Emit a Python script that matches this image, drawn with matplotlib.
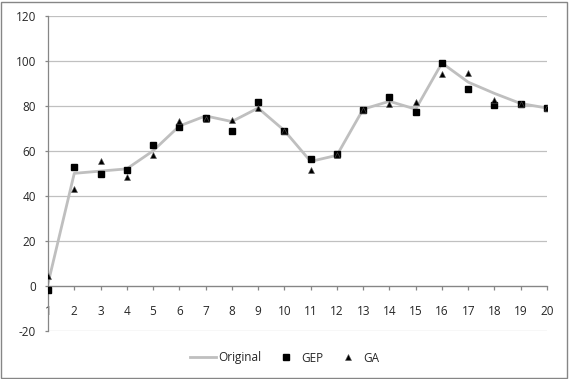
import matplotlib
matplotlib.use("Agg")
import matplotlib.pyplot as plt
from matplotlib.patches import Rectangle

# ---------------------------------------------------------------------
# Data
# ---------------------------------------------------------------------
categories = list(range(1, 21))
original = [1, 50, 51, 52, 60, 71, 75.5, 73, 79, 69,
            55.3, 58, 78.5, 82, 78.5, 99, 90.5, 85.5, 81, 79]
gep = [-1.8, 53, 49.6, 51.4, 62.4, 70.5, 74.7, 69, 81.5, 68.9,
       56.3, 58.7, 78, 84, 77.3, 99, 87.4, 80.3, 81, 79]
ga = [4.6, 43.1, 55.4, 48.6, 58.1, 73.3, 74.3, 73.8, 79, 68.9,
      51.6, 58.3, 78.3, 80.7, 81.9, 94.2, 94.5, 82.7, 80.7, 79]
y_ticks = [-20, 0, 20, 40, 60, 80, 100, 120]

plt.rcParams["font.family"] = ["Open Sans", "DejaVu Sans"]
plt.rcParams["font.size"] = 8.5
plt.rcParams["axes.unicode_minus"] = False

W, H = 569, 379
fig = plt.figure(figsize=(W / 100, H / 100), dpi=100)

# plot area in pixel coords of the reference
left, right, top, bottom = 48, 547, 15.7, 331
ax = fig.add_axes([left / W, 1 - bottom / H, (right - left) / W, (bottom - top) / H])

grid_c = "#c0c0c0"
axis_c = "#868686"

for y in y_ticks:
    ax.axhline(y, color=grid_c, linewidth=0.9, zorder=0)

ax.plot(categories, original, color="#bfbfbf", linewidth=2.0, label="Original", zorder=2)
ax.plot(categories, gep, linestyle="none", marker="s", markersize=4.6,
        color="black", label="GEP", zorder=3)
ax.plot(categories, ga, linestyle="none", marker="^", markersize=5.0,
        color="black", markeredgecolor="#555555", markeredgewidth=0.4,
        label="GA", zorder=4)

ax.set_xlim(1, 20)
ax.set_ylim(-20, 120)
ax.set_xticks(categories)
ax.set_yticks(y_ticks)

for s in ["top", "right"]:
    ax.spines[s].set_visible(False)
ax.spines["bottom"].set_position(("data", 0))
ax.spines["bottom"].set_color(axis_c)
ax.spines["left"].set_color(axis_c)
ax.spines["bottom"].set_linewidth(0.9)
ax.spines["left"].set_linewidth(0.9)

ax.tick_params(axis="x", direction="out", length=3, width=0.9, color=axis_c,
               pad=10.5, labelsize=8.5, labelcolor="#262626")
ax.tick_params(axis="y", direction="out", length=2.5, width=0.9, color=axis_c,
               pad=6, labelsize=8.5, labelcolor="#262626")
ax.patch.set_visible(False)

leg = fig.legend(loc="center", bbox_to_anchor=(0.5, 1 - 358 / H), ncol=3,
                 frameon=False, fontsize=8.5, handlelength=2.2,
                 handletextpad=0.2, columnspacing=1.0)
for t in leg.get_texts():
    t.set_color("#262626")

# outer chart border
fig.patches.append(Rectangle((1 / W, 1 / H), (W - 3) / W, (H - 3) / H,
                             transform=fig.transFigure, fill=False,
                             edgecolor="#868686", linewidth=1.0))

fig.savefig("out.png", dpi=100)
